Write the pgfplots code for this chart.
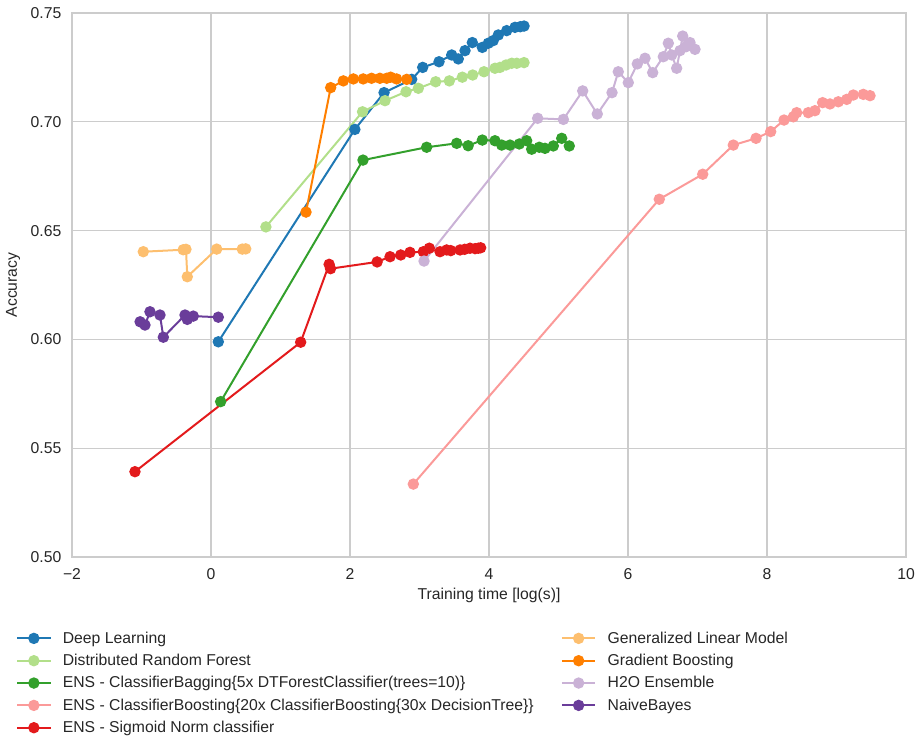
\documentclass[border=0pt]{standalone}
\usepackage{fontspec}
\setmainfont{Liberation Sans}
\usepackage{pgfplots}
\pgfplotsset{compat=1.18}
\definecolor{cDL}{HTML}{1F78B4}
\definecolor{cDRF}{HTML}{B2DF8A}
\definecolor{cBag}{HTML}{33A02C}
\definecolor{cBoost}{HTML}{FB9A99}
\definecolor{cSig}{HTML}{E31A1C}
\definecolor{cGLM}{HTML}{FDBF6F}
\definecolor{cGB}{HTML}{FF7F00}
\definecolor{cH2O}{HTML}{CAB2D6}
\definecolor{cNB}{HTML}{6A3D9A}
\definecolor{gridc}{HTML}{CCCCCC}
\definecolor{txt}{HTML}{262626}
\newcommand{\fs}{\fontsize{11.8}{14}\selectfont}
\pgfplotsset{
  ser/.style={color=#1, line width=1.5pt, mark=*, mark size=3.5pt, mark options={solid, fill=#1, draw=#1}},
}
\begin{document}
\begin{tikzpicture}
\path[use as bounding box] (-54pt,-135.75pt) rectangle (636.75pt,417.75pt);
\begin{axis}[
  at={(0pt,0pt)}, anchor=south west,
  scale only axis, width=625.5pt, height=408pt,
  xmin=-2, xmax=10, ymin=0.50, ymax=0.75,
  xtick={-2,0,2,4,6,8,10},
  xticklabels={−2,0,2,4,6,8,10},
  ytick={0.50,0.55,0.60,0.65,0.70,0.75},
  yticklabels={0.50,0.55,0.60,0.65,0.70,0.75},
  major tick length=0pt,
  grid=major,
  major grid style={gridc, line width=1pt},
  axis line style={gridc, line width=1pt},
  tick label style={font=\fs, text=txt},
  xticklabel style={yshift=-5pt},
  yticklabel style={xshift=-4.5pt},
  xlabel={Training time [log(s)]},
  ylabel={Accuracy},
  every axis x label/.style={at={(axis description cs:0.5,-0.0715)}, anchor=center, font=\fs, text=txt},
  every axis y label/.style={at={(axis description cs:-0.0705,0.5)}, anchor=center, rotate=90, font=\fs, text=txt},
  legend columns=2,
  legend image code/.code={\draw[mark repeat=2,mark phase=2,#1] plot coordinates {(0pt,0pt)(12.5pt,0pt)(25pt,0pt)};},
  legend style={draw=none, fill=none, at={(axis description cs:-0.072,-0.127)}, anchor=north west,
    font=\fs, text=txt, row sep=2.7pt,
    /tikz/every odd column/.append style={column sep=6.5pt},
    /tikz/every even column/.append style={column sep=18.5pt}},
  legend cell align=left,
]
% Deep Learning
\addplot[ser=cDL, forget plot] coordinates {
(0.105,0.5989) (2.07,0.6965) (2.49,0.7134) (2.888,0.7195) (3.046,0.7250) (3.281,0.7276)
(3.463,0.7307) (3.558,0.7289) (3.655,0.7327) (3.760,0.7364) (3.904,0.7342) (3.99,0.7361)
(4.06,0.7373) (4.134,0.7399) (4.255,0.7419) (4.374,0.7434) (4.45,0.7437) (4.504,0.7440)};
% Distributed Random Forest
\addplot[ser=cDRF, forget plot] coordinates {
(0.79,0.6517) (2.18,0.7046) (2.504,0.7097) (2.806,0.7138) (2.983,0.7154) (3.233,0.7184)
(3.429,0.7188) (3.616,0.7205) (3.765,0.7215) (3.928,0.7230) (4.086,0.7246) (4.158,0.7250)
(4.245,0.7261) (4.327,0.7269) (4.40,0.7269) (4.504,0.7272)};
% Bagging
\addplot[ser=cBag, forget plot] coordinates {
(0.139,0.5714) (2.187,0.6824) (3.103,0.6883) (3.535,0.6901) (3.70,0.6890) (3.904,0.6916)
(4.086,0.6913) (4.183,0.6893) (4.302,0.6893) (4.436,0.6898) (4.542,0.6913) (4.614,0.6874)
(4.724,0.6883) (4.806,0.6878) (4.925,0.6889) (5.046,0.6924) (5.155,0.6889)};
% Boosting
\addplot[ser=cBoost, forget plot] coordinates {
(2.911,0.5335) (6.45,0.6644) (7.075,0.6759) (7.515,0.6893) (7.842,0.6924) (8.053,0.6955)
(8.245,0.7008) (8.379,0.7023) (8.427,0.7042) (8.594,0.7042) (8.69,0.7051) (8.80,0.7088)
(8.906,0.7082) (9.026,0.7092) (9.147,0.7103) (9.242,0.7123) (9.386,0.7126) (9.482,0.7120)};
% Sigmoid Norm
\addplot[ser=cSig, forget plot] coordinates {
(-1.094,0.5392) (1.29,0.5987) (1.70,0.6345) (1.72,0.6325) (2.39,0.6356) (2.576,0.6380)
(2.73,0.6388) (2.863,0.6400) (3.055,0.6403) (3.141,0.6419) (3.295,0.6403) (3.391,0.6411)
(3.45,0.6408) (3.583,0.6411) (3.65,0.6414) (3.727,0.6419) (3.80,0.6417) (3.846,0.6419) (3.88,0.6421)};
% GLM
\addplot[ser=cGLM, forget plot] coordinates {
(-0.974,0.6403) (-0.40,0.6412) (-0.36,0.6414) (-0.341,0.6288) (0.082,0.6415) (0.45,0.6415) (0.50,0.6416)};
% Gradient Boosting
\addplot[ser=cGB, forget plot] coordinates {
(1.367,0.6585) (1.722,0.7157) (1.904,0.7188) (2.048,0.7197) (2.19,0.7197) (2.31,0.7200)
(2.43,0.7200) (2.528,0.7200) (2.585,0.7205) (2.67,0.7197) (2.816,0.7195)};
% H2O Ensemble
\addplot[ser=cH2O, forget plot] coordinates {
(3.065,0.636) (4.70,0.7016) (5.07,0.7011) (5.348,0.7142) (5.558,0.7036) (5.77,0.7134)
(5.86,0.7230) (6.004,0.7180) (6.134,0.7266) (6.245,0.7292) (6.355,0.7226) (6.508,0.7299)
(6.58,0.7361) (6.629,0.7307) (6.70,0.7246) (6.748,0.7327) (6.787,0.7394) (6.835,0.7345)
(6.892,0.7364) (6.964,0.7333)};
% NaiveBayes
\addplot[ser=cNB, forget plot] coordinates {
(-1.02,0.6081) (-0.95,0.6066) (-0.878,0.6127) (-0.734,0.6112) (-0.686,0.6010)
(-0.374,0.6112) (-0.341,0.6092) (-0.255,0.6107) (0.105,0.6102)};
\addlegendimage{ser=cDL}\addlegendentry{Deep Learning}
\addlegendimage{ser=cGLM}\addlegendentry{Generalized Linear Model}
\addlegendimage{ser=cDRF}\addlegendentry{Distributed Random Forest}
\addlegendimage{ser=cGB}\addlegendentry{Gradient Boosting}
\addlegendimage{ser=cBag}\addlegendentry{ENS - ClassifierBagging\{5x DTForestClassifier(trees=10)\}}
\addlegendimage{ser=cH2O}\addlegendentry{H2O Ensemble}
\addlegendimage{ser=cBoost}\addlegendentry{ENS - ClassifierBoosting\{20x ClassifierBoosting\{30x DecisionTree\}\}}
\addlegendimage{ser=cNB}\addlegendentry{NaiveBayes}
\addlegendimage{ser=cSig}\addlegendentry{ENS - Sigmoid Norm classifier}
\end{axis}
\end{tikzpicture}
\end{document}
